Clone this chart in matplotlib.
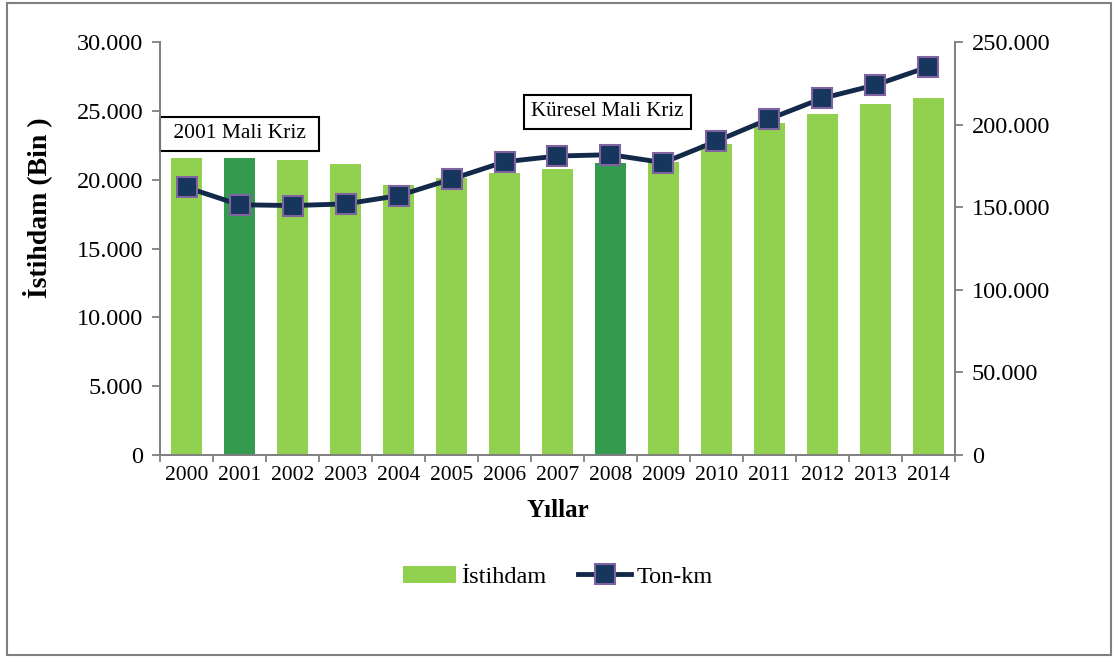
import numpy as np
import matplotlib.pyplot as plt
from matplotlib.patches import Rectangle
from matplotlib.ticker import FuncFormatter, FixedLocator

plt.rcParams['font.family'] = ['Liberation Serif', 'DejaVu Serif']

years = ['2000', '2001', '2002', '2003', '2004', '2005', '2006', '2007',
         '2008', '2009', '2010', '2011', '2012', '2013', '2014']
istihdam = [21600, 21550, 21400, 21150, 19650, 20100, 20450, 20750,
            21200, 21300, 22600, 24100, 24800, 25500, 25950]
ton_km = [162000, 151500, 151000, 152000, 157000, 167000, 177500, 181000,
          181800, 177000, 190000, 203500, 216000, 224000, 235000]
kriz_yillari = ['2001', '2008']

light = '#92D050'
dark = '#339A4E'
grey = '#808080'

fig = plt.figure(figsize=(11.15, 6.57), dpi=100)
ax = fig.add_axes([0.1435, 0.3075, 0.7130, 0.6285])
ax2 = ax.twinx()

x = np.arange(len(years))
colors = [dark if y in kriz_yillari else light for y in years]
bars = ax.bar(x, istihdam, width=0.57, color=colors, edgecolor='none', zorder=2)
line, = ax2.plot(x, ton_km, color='#13294A', lw=3.5, marker='s', markersize=14,
                 markerfacecolor='#17365D', markeredgecolor='#8064A2',
                 markeredgewidth=1.5, zorder=3)

ax.set_xlim(-0.5, len(years) - 0.5)
ax.set_ylim(0, 30000)
ax2.set_ylim(0, 250000)
ax.set_yticks(np.arange(0, 30001, 5000))
ax2.set_yticks(np.arange(0, 250001, 50000))
fmt = FuncFormatter(lambda v, p: f'{int(v):,}'.replace(',', '.'))
ax.yaxis.set_major_formatter(fmt)
ax2.yaxis.set_major_formatter(fmt)

# ticks on category boundaries, labels centred under the bars
ax.xaxis.set_major_locator(FixedLocator(np.arange(-0.5, len(years), 1.0)))
ax.xaxis.set_major_formatter(FuncFormatter(lambda v, p: ''))
ax.xaxis.set_minor_locator(FixedLocator(x))
ax.set_xticklabels(years, minor=True)
ax.tick_params(axis='x', which='minor', length=0, pad=8, labelsize=15.5)
ax.tick_params(axis='x', which='major', length=5, color=grey, width=1.3)
ax.tick_params(axis='y', length=6, color=grey, width=1.3, labelsize=17.5, pad=6)
ax2.tick_params(axis='y', length=6, color=grey, width=1.3, labelsize=17.5, pad=6)

for a in (ax, ax2):
    a.spines['top'].set_visible(False)
    for s in ('left', 'right', 'bottom'):
        a.spines[s].set_color(grey)
        a.spines[s].set_linewidth(1.3)

ax.set_ylabel('İstihdam (Bin )', fontsize=20, fontweight='bold')
ax.yaxis.set_label_coords(-0.136, 0.6)
ax.set_xlabel('Yıllar', fontsize=18, fontweight='bold', labelpad=10)

box = dict(boxstyle='square,pad=0.35', facecolor='white', edgecolor='black', lw=1.5)
ax.text(1.0, 23330, ' 2001 Mali Kriz ', fontsize=15.5, ha='center', va='center', bbox=box, zorder=5)
ax.text(7.94, 24930, 'Küresel Mali Kriz', fontsize=15, ha='center', va='center', bbox=box, zorder=5)

fig.legend([bars, line], ['İstihdam', 'Ton-km'], loc='center', bbox_to_anchor=(0.5, 0.122),
           ncol=2, frameon=False, fontsize=17.5, handlelength=2.2, columnspacing=1.3,
           handletextpad=0.2)

fig.patches.append(Rectangle((0.006, 0.003), 0.99, 0.992, transform=fig.transFigure,
                             fill=False, edgecolor=grey, lw=1.5))

fig.savefig('out.png', dpi=100)
